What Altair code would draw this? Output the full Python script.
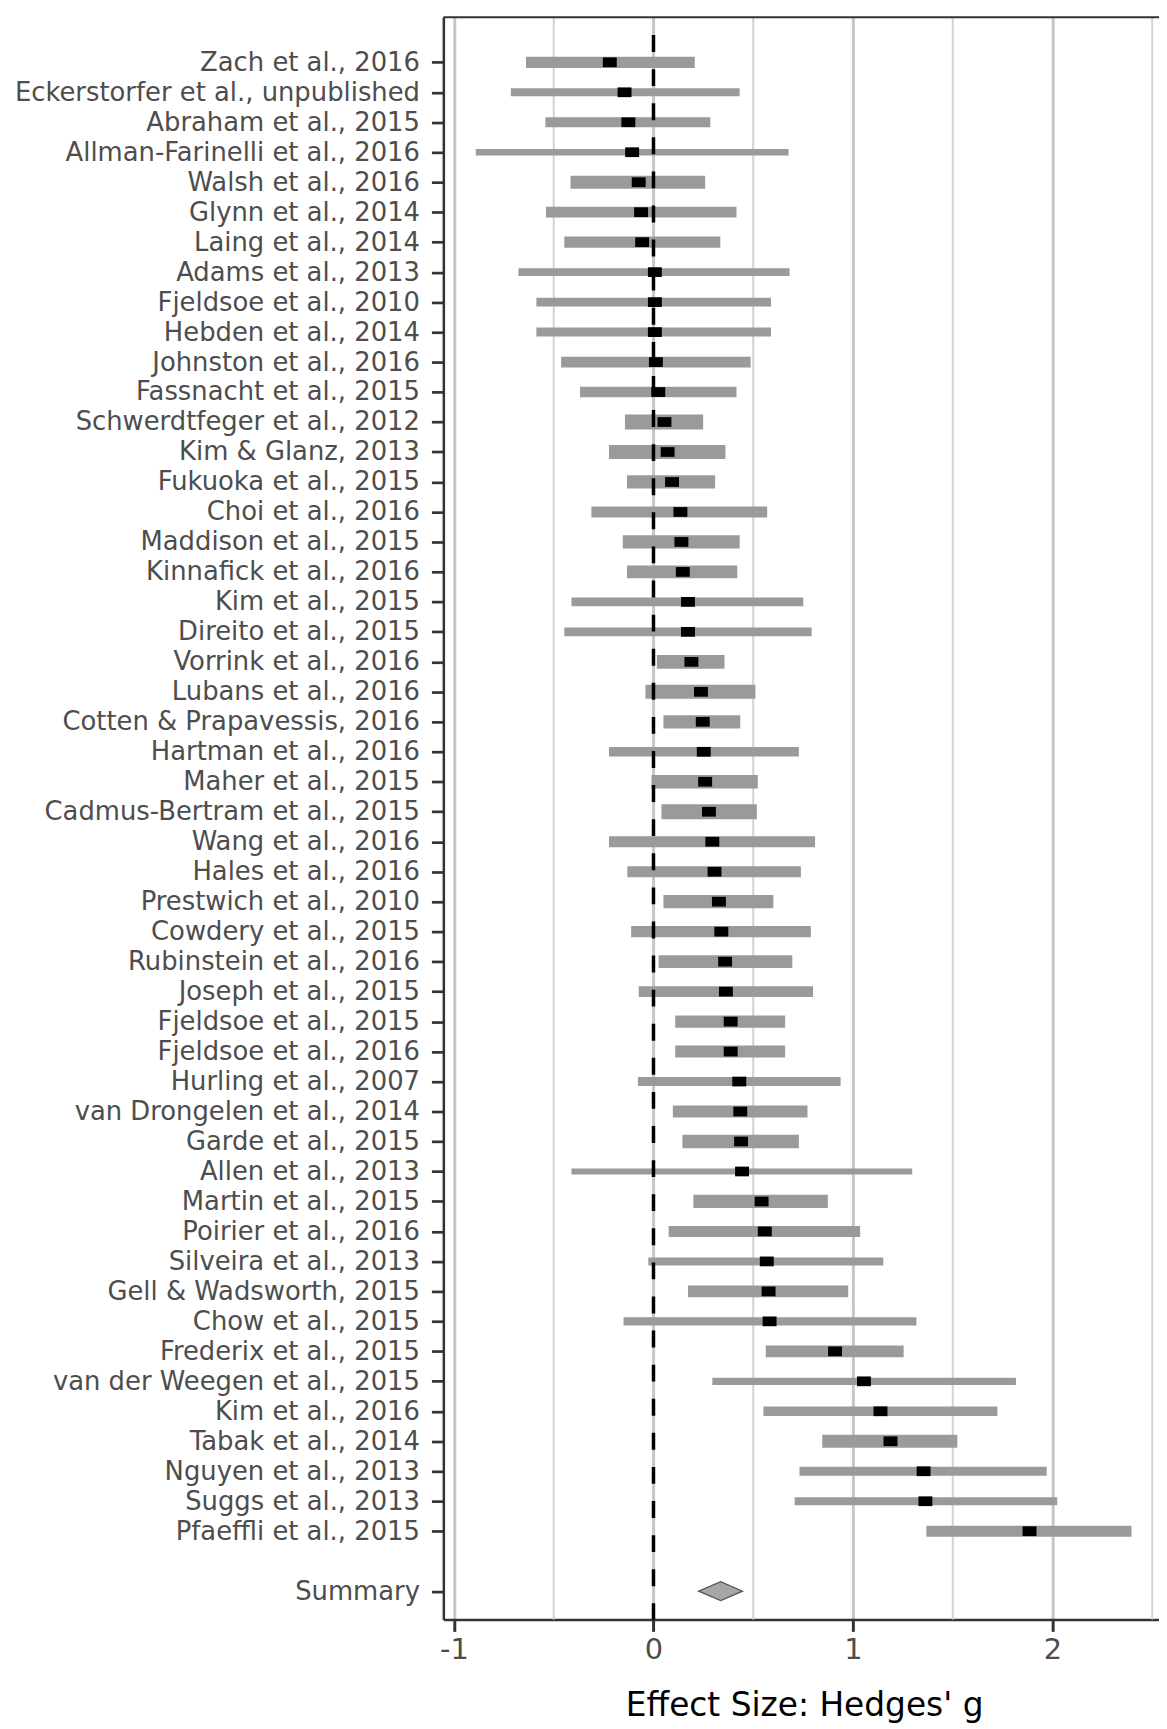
import json
import altair as alt
import pandas as pd

# ---------------- data ----------------
studies = [
    "Zach et al., 2016", "Eckerstorfer et al., unpublished", "Abraham et al., 2015",
    "Allman-Farinelli et al., 2016", "Walsh et al., 2016", "Glynn et al., 2014",
    "Laing et al., 2014", "Adams et al., 2013", "Fjeldsoe et al., 2010",
    "Hebden et al., 2014", "Johnston et al., 2016", "Fassnacht et al., 2015",
    "Schwerdtfeger et al., 2012", "Kim & Glanz, 2013", "Fukuoka et al., 2015",
    "Choi et al., 2016", "Maddison et al., 2015", "Kinnafick et al., 2016",
    "Kim et al., 2015", "Direito et al., 2015", "Vorrink et al., 2016",
    "Lubans et al., 2016", "Cotten & Prapavessis, 2016", "Hartman et al., 2016",
    "Maher et al., 2015", "Cadmus-Bertram et al., 2015", "Wang et al., 2016",
    "Hales et al., 2016", "Prestwich et al., 2010", "Cowdery et al., 2015",
    "Rubinstein et al., 2016", "Joseph et al., 2015", "Fjeldsoe et al., 2015",
    "Fjeldsoe et al., 2016", "Hurling et al., 2007", "van Drongelen et al., 2014",
    "Garde et al., 2015", "Allen et al., 2013", "Martin et al., 2015",
    "Poirier et al., 2016", "Silveira et al., 2013", "Gell & Wadsworth, 2015",
    "Chow et al., 2015", "Frederix et al., 2015", "van der Weegen et al., 2015",
    "Kim et al., 2016", "Tabak et al., 2014", "Nguyen et al., 2013",
    "Suggs et al., 2013", "Pfaeffli et al., 2015",
]
estimate = [
    -0.219, -0.145, -0.126, -0.107, -0.074, -0.062, -0.057, 0.007, 0.007,
    0.007, 0.012, 0.024, 0.055, 0.071, 0.093, 0.135, 0.140, 0.147, 0.173,
    0.173, 0.190, 0.238, 0.247, 0.252, 0.259, 0.278, 0.295, 0.306, 0.328,
    0.340, 0.359, 0.363, 0.387, 0.387, 0.430, 0.435, 0.439, 0.444, 0.542,
    0.558, 0.568, 0.577, 0.582, 0.910, 1.055, 1.138, 1.188, 1.354, 1.363,
    1.885,
]
ci_low = [
    -0.639, -0.715, -0.542, -0.891, -0.416, -0.539, -0.447, -0.677, -0.587,
    -0.587, -0.463, -0.368, -0.143, -0.223, -0.133, -0.311, -0.154, -0.133,
    -0.411, -0.447, 0.017, -0.040, 0.050, -0.223, -0.010, 0.040, -0.223,
    -0.131, 0.050, -0.112, 0.026, -0.074, 0.109, 0.109, -0.078, 0.097,
    0.145, -0.411, 0.200, 0.076, -0.026, 0.173, -0.150, 0.563, 0.295,
    0.551, 0.846, 0.732, 0.708, 1.368,
]
ci_high = [
    0.207, 0.432, 0.285, 0.677, 0.259, 0.416, 0.335, 0.682, 0.589,
    0.589, 0.487, 0.416, 0.249, 0.361, 0.309, 0.570, 0.432, 0.420,
    0.751, 0.793, 0.356, 0.511, 0.435, 0.729, 0.523, 0.518, 0.810,
    0.739, 0.601, 0.789, 0.696, 0.800, 0.660, 0.660, 0.938, 0.772,
    0.729, 1.297, 0.874, 1.036, 1.152, 0.976, 1.318, 1.254, 1.817,
    1.724, 1.523, 1.971, 2.024, 2.396,
]
# relative study weight (shown as the thickness of each interval bar)
weight = [
    11.3, 8.0, 10.3, 6.7, 13.0, 10.7, 11.3, 7.7, 9.0,
    9.0, 10.7, 10.7, 15.0, 14.0, 13.3, 11.0, 13.3, 12.7, 9.0,
    9.0, 14.0, 14.0, 13.3, 9.7, 13.7, 15.0, 11.0, 11.0, 13.3,
    11.3, 13.0, 10.7, 12.3, 12.0, 9.0, 12.0, 13.7, 6.0, 13.3,
    11.0, 8.0, 12.0, 8.3, 11.7, 7.3, 9.7, 13.0, 9.0, 8.0, 11.0,
]
summary_label = "Summary"
summary_est = 0.337
summary_low = 0.227
summary_high = 0.446

x_major = [-1, 0, 1, 2]
x_minor = [-0.5, 0.5, 1.5, 2.5]
x_title = "Effect Size: Hedges' g"

# ---------------- layout ----------------
PLOT_W = 720
PLOT_H = 1612
FONT = "DejaVu Sans"
X_DOMAIN = [-1.0533, 2.534]
Y_DOMAIN = [-0.505, 52.943]
DIAMOND_HALF = 0.315

n = len(studies)
rows = list(range(1, n + 1))
summary_row = n + 2

df = pd.DataFrame({
    "study": studies, "row": rows, "est": estimate,
    "lo": ci_low, "hi": ci_high, "w": weight,
})
diamond_df = pd.DataFrame({
    "x": [summary_low, summary_est, summary_high],
    "row": [summary_row] * 3,
    "k": [0, 1, 2],
})

labels_by_row = [""] * (summary_row + 1)
for r, s in zip(rows, studies):
    labels_by_row[r] = s
labels_by_row[summary_row] = summary_label
label_expr = json.dumps(labels_by_row) + "[datum.value]"

xscale = alt.Scale(domain=X_DOMAIN, nice=False, zero=False)
yscale = alt.Scale(domain=Y_DOMAIN, reverse=True, nice=False, zero=False)

xaxis = alt.Axis(
    values=x_major, grid=True, gridColor="#c6c6c6", gridWidth=3,
    labelExpr="'' + datum.value",
    domainColor="#333333", domainWidth=2.5,
    tickColor="#333333", tickWidth=3, tickSize=12,
    labelFont=FONT, labelFontSize=29, labelColor="#4d4d4d", labelPadding=4,
    title=x_title, titleFont=FONT, titleFontSize=33, titleFontWeight="normal",
    titleColor="#000000", titleX=363, titleY=97, titleBaseline="alphabetic",
    titleAlign="center",
)
yaxis = alt.Axis(
    values=rows + [summary_row], labelExpr=label_expr, grid=False,
    domainColor="#333333", domainWidth=2.5,
    tickColor="#333333", tickWidth=2.7, tickSize=12,
    labelFont=FONT, labelFontSize=26, labelColor="#4d4d4d", labelPadding=12,
    labelBaseline="middle", labelLimit=0, title=None,
)

minor_grid = alt.Chart(pd.DataFrame({"v": x_minor})).mark_rule(
    color="#d2d2d2", strokeWidth=2
).encode(
    x=alt.X("v:Q", scale=xscale, axis=xaxis),
    y=alt.value(0), y2=alt.value(PLOT_H),
)

bars = alt.Chart(df).mark_rule(color="#9a9a9a", strokeCap="butt").encode(
    x=alt.X("lo:Q", scale=xscale, axis=xaxis),
    x2="hi:Q",
    y=alt.Y("row:Q", scale=yscale, axis=yaxis),
    size=alt.Size("w:Q", scale=alt.Scale(domain=[0, 15], range=[0, 15]), legend=None),
)

zero_line = alt.Chart(pd.DataFrame({"v": [0]})).mark_rule(
    color="#000000", strokeWidth=3.5, strokeDash=[17, 17.3], strokeDashOffset=16.3
).encode(
    x=alt.X("v:Q", scale=xscale, axis=xaxis),
    y=alt.value(0), y2=alt.value(PLOT_H),
)

points = alt.Chart(df).mark_point(
    shape="M-1,-0.7H1V0.7H-1Z", filled=True, color="#000000", opacity=1, size=196
).encode(
    x=alt.X("est:Q", scale=xscale, axis=xaxis),
    y=alt.Y("row:Q", scale=yscale, axis=yaxis),
)

diamond = alt.Chart(diamond_df).transform_calculate(
    ytop=f"datum.row - (datum.k == 1 ? {DIAMOND_HALF} : 0)",
    ybot=f"datum.row + (datum.k == 1 ? {DIAMOND_HALF} : 0)",
).mark_area(
    color="#a6a6a6", stroke="#555555", strokeWidth=1.3, opacity=1
).encode(
    x=alt.X("x:Q", scale=xscale, axis=xaxis),
    y=alt.Y("ytop:Q", scale=yscale, axis=yaxis),
    y2="ybot:Q",
)

top_border = alt.Chart(pd.DataFrame({"a": [0]})).mark_rule(
    color="#333333", strokeWidth=2
).encode(x=alt.value(0), x2=alt.value(PLOT_W), y=alt.value(0))

chart = alt.layer(
    minor_grid, bars, zero_line, points, diamond, top_border
).properties(
    width=PLOT_W, height=PLOT_H,
    padding={"left": 438, "top": 4, "right": 0, "bottom": 105},
    autosize=alt.AutoSizeParams(type="none"),
    background="#ffffff",
).configure_view(stroke=None)

chart.save("out.html", embed_options={"renderer": "svg", "actions": False})
